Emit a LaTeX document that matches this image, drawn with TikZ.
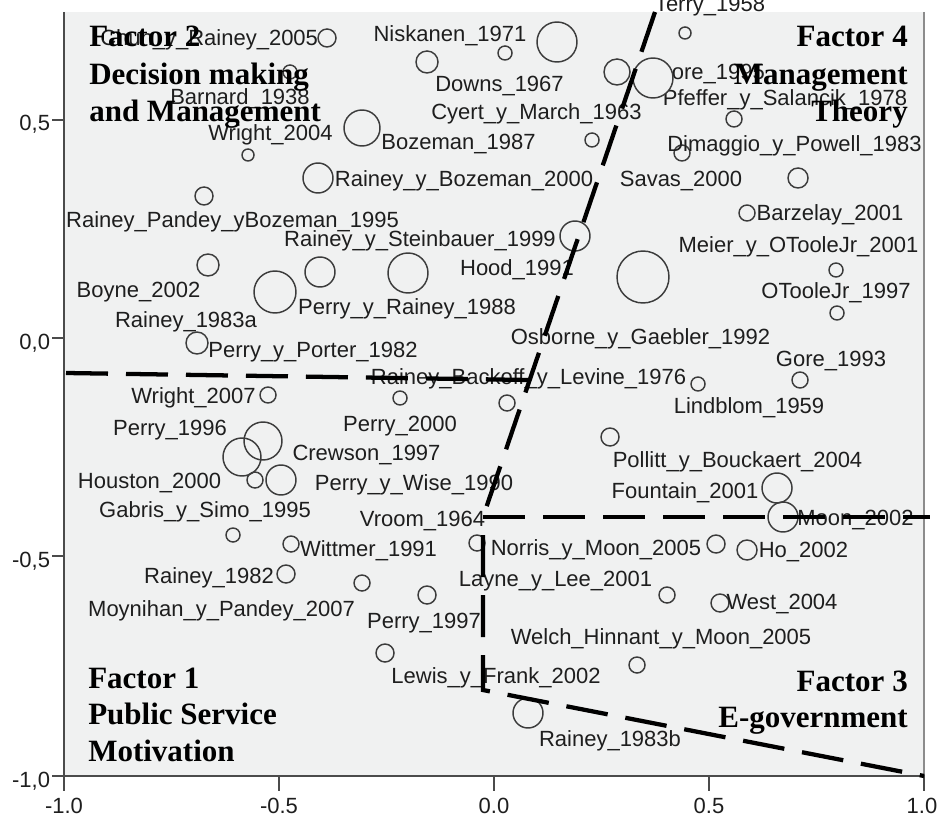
\documentclass[tikz,border=0pt]{standalone}
\usepackage{fontspec}
\setmainfont{Liberation Sans}
\newfontfamily\facserif{Liberation Serif}
\definecolor{plotbg}{RGB}{240,241,241}
\definecolor{lblcol}{RGB}{30,30,30}
\definecolor{mkcol}{RGB}{60,60,60}
\definecolor{axcol}{RGB}{75,75,75}
\definecolor{rgtcol}{RGB}{140,140,140}
\begin{document}
\begin{tikzpicture}[x=0.75pt,y=-0.75pt,
  lbl/.style={anchor=base,inner sep=0pt,outer sep=0pt,text=lblcol,font=\fontsize{16.5}{18}\selectfont},
  tick/.style={inner sep=0pt,outer sep=0pt,text=lblcol,font=\fontsize{16.5}{18}\selectfont},
  mk/.style={circle,draw=mkcol,line width=1.1pt,inner sep=0pt,outer sep=0pt,minimum size=#1},
  facL/.style={anchor=base west,inner sep=0pt,font=\facserif\bfseries\fontsize{23.25}{28}\selectfont},
  facR/.style={anchor=base east,inner sep=0pt,font=\facserif\bfseries\fontsize{23.25}{28}\selectfont},
  cut/.style={line width=3.2pt,dash pattern=on 31.5pt off 13.5pt},
  axline/.style={draw=axcol,line width=2pt},
  tickline/.style={draw=axcol,line width=1.6pt}]
\useasboundingbox (0,0) rectangle (941,816);
\fill[white] (0,0) rectangle (941,816);
% plot area
\fill[plotbg] (64,12) rectangle (924,776);
\draw[draw=rgtcol,line width=1.6pt] (924,12) -- (924,776);
\draw[axline] (64,12) -- (64,777);
\draw[axline] (63,776) -- (925,776);
% ticks
\foreach \yy in {120,338,556,776} \draw[tickline] (52,\yy) -- (64,\yy);
\foreach \xx in {64,279,494,709,924} \draw[tickline] (\xx,776) -- (\xx,791);
\node[tick,anchor=base east] (yl1) at (50,131) {0,5};
\node[tick,anchor=base east] (yl2) at (50,349) {0,0};
\node[tick,anchor=base east] (yl3) at (50,567) {-0,5};
\node[tick,anchor=base east] (yl4) at (50,787) {-1,0};
\node[tick,anchor=base] (xl1) at (64,813) {-1.0};
\node[tick,anchor=base] (xl2) at (279,813) {-0.5};
\node[tick,anchor=base] (xl3) at (494,813) {0.0};
\node[tick,anchor=base] (xl4) at (709,813) {0.5};
\node[tick,anchor=base] (xl5) at (922,813) {1.0};
% markers
\node[mk=13.5pt] (c1) at (327,38) {};
\node[mk=10.5pt] (c2) at (290,72) {};
\node[mk=16.5pt] (c3) at (427,62) {};
\node[mk=10.5pt] (c4) at (505,53) {};
\node[mk=30pt] (c5) at (557,42) {};
\node[mk=19.5pt] (c6) at (617,72) {};
\node[mk=9pt] (c8) at (685,33) {};
\node[mk=12pt] (c9) at (734,119) {};
\node[mk=10.5pt] (c10) at (592,140) {};
\node[mk=27pt] (c11) at (362,128) {};
\node[mk=9pt] (c12) at (248,155) {};
\node[mk=12pt] (c13) at (682,153) {};
\node[mk=22.5pt] (c14) at (318,178) {};
\node[mk=15pt] (c15) at (798,178) {};
\node[mk=13.5pt] (c16) at (204,196) {};
\node[mk=12pt] (c17) at (747,213) {};
\node[mk=22.5pt] (c18) at (575,236) {};
\node[mk=10.5pt] (c19) at (836,270) {};
\node[mk=10.5pt] (c20) at (837,313) {};
\node[mk=39pt] (c21) at (643,277) {};
\node[mk=16.5pt] (c22) at (208,265) {};
\node[mk=31.5pt] (c23) at (275,292) {};
\node[mk=22.5pt] (c24) at (320,272) {};
\node[mk=30pt] (c25) at (408,273) {};
\node[mk=16.5pt] (c26) at (197,343) {};
\node[mk=12pt] (c27) at (800,380) {};
\node[mk=10.5pt] (c28) at (698,384) {};
\node[mk=12pt] (c29) at (268,395) {};
\node[mk=10.5pt] (c30) at (400,398) {};
\node[mk=12pt] (c31) at (507,403) {};
\node[mk=28.5pt] (c32) at (263,441) {};
\node[mk=28.5pt] (c33) at (242,457) {};
\node[mk=12pt] (c34) at (255,480) {};
\node[mk=22.5pt] (c35) at (281,480) {};
\node[mk=13.5pt] (c36) at (610,437) {};
\node[mk=22.5pt] (c37) at (777,488) {};
\node[mk=22.5pt] (c38) at (783,517) {};
\node[mk=10.5pt] (c39) at (233,535) {};
\node[mk=12pt] (c40) at (291,544) {};
\node[mk=12pt] (c41) at (477,543) {};
\node[mk=13.5pt] (c42) at (716,544) {};
\node[mk=15pt] (c43) at (747,550) {};
\node[mk=13.5pt] (c44) at (286,574) {};
\node[mk=12pt] (c45) at (362,583) {};
\node[mk=13.5pt] (c46) at (427,595) {};
\node[mk=12pt] (c47) at (667,595) {};
\node[mk=13.5pt] (c48) at (720,603) {};
\node[mk=13.5pt] (c49) at (385,653) {};
\node[mk=12pt] (c50) at (637,665) {};
\node[mk=22.5pt] (c51) at (528,713) {};
% labels
\node[lbl,anchor=base east] (t1) at (318,46) {Chun\_y\_Rainey\_2005};
\node[lbl] (t2) at (450,42) {Niskanen\_1971};
\node[lbl] (t3) at (710,12) {Terry\_1958};
\node[lbl] (t4) at (499.5,92) {Downs\_1967};
\node[lbl] (t5) at (703,80) {Moore\_1995};
\node[lbl] (t6) at (240,105) {Barnard\_1938};
\node[lbl] (t7) at (785,106) {Pfeffer\_y\_Salancik\_1978};
\node[lbl] (t8) at (536.5,120) {Cyert\_y\_March\_1963};
\node[lbl] (t9) at (270.5,141) {Wright\_2004};
\node[lbl] (t10) at (458.5,150) {Bozeman\_1987};
\node[lbl] (t11) at (794.5,152) {Dimaggio\_y\_Powell\_1983};
\node[lbl] (t12) at (464,187) {Rainey\_y\_Bozeman\_2000};
\node[lbl] (t13) at (681,187) {Savas\_2000};
\node[lbl] (t14) at (830,221) {Barzelay\_2001};
\node[lbl] (t15) at (232.5,228) {Rainey\_Pandey\_yBozeman\_1995};
\node[lbl] (t16) at (420,247) {Rainey\_y\_Steinbauer\_1999};
\node[lbl] (t17) at (798.5,253) {Meier\_y\_OTooleJr\_2001};
\node[lbl] (t18) at (517,276) {Hood\_1991};
\node[lbl] (t19) at (138.5,297) {Boyne\_2002};
\node[lbl] (t20) at (836,299) {OTooleJr\_1997};
\node[lbl] (t21) at (407,315) {Perry\_y\_Rainey\_1988};
\node[lbl] (t22) at (186,327) {Rainey\_1983a};
\node[lbl] (t23) at (640.5,344) {Osborne\_y\_Gaebler\_1992};
\node[lbl] (t24) at (313,357) {Perry\_y\_Porter\_1982};
\node[lbl] (t25) at (831,366) {Gore\_1993};
\node[lbl] (t26) at (528.5,384) {Rainey\_Backoff\_y\_Levine\_1976};
\node[lbl] (t27) at (193.5,403) {Wright\_2007};
\node[lbl] (t28) at (749,413) {Lindblom\_1959};
\node[lbl] (t29) at (400,431) {Perry\_2000};
\node[lbl] (t30) at (170,435) {Perry\_1996};
\node[lbl] (t31) at (366.5,460) {Crewson\_1997};
\node[lbl] (t32) at (737.5,467) {Pollitt\_y\_Bouckaert\_2004};
\node[lbl] (t33) at (149.5,488) {Houston\_2000};
\node[lbl] (t34) at (414,490) {Perry\_y\_Wise\_1990};
\node[lbl] (t35) at (685,498) {Fountain\_2001};
\node[lbl] (t36) at (205,517) {Gabris\_y\_Simo\_1995};
\node[lbl] (t37) at (422.5,526) {Vroom\_1964};
\node[lbl] (t38) at (855.5,525) {Moon\_2002};
\node[lbl] (t39) at (368.5,556) {Wittmer\_1991};
\node[lbl] (t40) at (596,555) {Norris\_y\_Moon\_2005};
\node[lbl] (t41) at (803.5,557) {Ho\_2002};
\node[lbl] (t42) at (209,583) {Rainey\_1982};
\node[lbl] (t43) at (555.5,586) {Layne\_y\_Lee\_2001};
\node[lbl] (t44) at (782,609) {West\_2004};
\node[lbl] (t45) at (221.5,616) {Moynihan\_y\_Pandey\_2007};
\node[lbl] (t46) at (424,628) {Perry\_1997};
\node[lbl] (t47) at (661,644) {Welch\_Hinnant\_y\_Moon\_2005};
\node[lbl] (t48) at (496,683) {Lewis\_y\_Frank\_2002};
\node[lbl] (t49) at (610,746) {Rainey\_1983b};
% filled marker on top of its neighbour label
\node[mk=30pt,fill=plotbg] (c7) at (653,78) {};
% cutting lines
\coordinate (ctop) at (655,12);
\coordinate (cv) at (483,517);
\coordinate (cj) at (529,380);
\coordinate (cl) at (66,373);
\coordinate (cr) at (930,517);
\coordinate (cc) at (483,690);
\coordinate (ce) at (924,776);
\draw[cut] (ctop) -- (cv);
\draw[cut] (cl) -- (cj);
\draw[cut] (cv) -- (cr);
\draw[cut,dash phase=31.5pt] (cv) -- (cc) -- (ce);
% factor captions
\node[facL] (f2a) at (89,47) {Factor 2};
\node[facL] (f2b) at (89,85) {Decision making};
\node[facL] (f2c) at (89,122) {and Management};
\node[facR] (f4a) at (908,47) {Factor 4};
\node[facR] (f4b) at (908,85) {Management};
\node[facR] (f4c) at (908,122) {Theory};
\node[facL] (f1a) at (88,688) {Factor 1};
\node[facL] (f1b) at (88,724) {Public Service};
\node[facL] (f1c) at (88,761) {Motivation};
\node[facR] (f3a) at (908,691) {Factor 3};
\node[facR] (f3b) at (908,727) {E-government};
\end{tikzpicture}
\end{document}
